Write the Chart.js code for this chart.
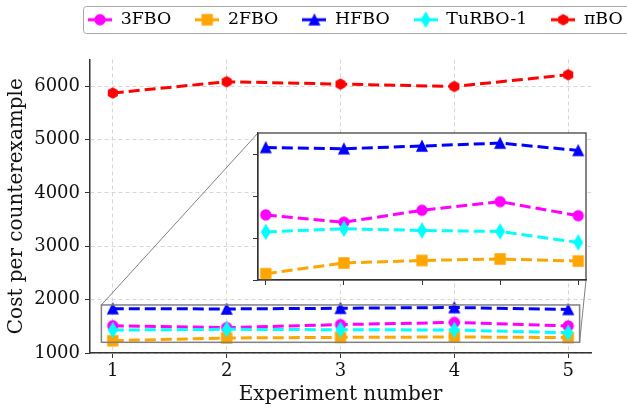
<!DOCTYPE html>
<html>
<head>
<meta charset="utf-8">
<script src="https://cdn.jsdelivr.net/npm/chart.js@4.4.1/dist/chart.umd.min.js"></script>
<style>
  html, body { margin: 0; padding: 0; background: #fff; }
  #wrap { position: relative; width: 627px; height: 407px; overflow: hidden; }
  #main { position: absolute; left: 0; top: 0; }
  #inset { position: absolute; left: 248px; top: 123px; }
</style>
</head>
<body>
<div id="wrap">
  <canvas id="main" width="627" height="407"></canvas>
  <canvas id="inset" width="348" height="167"></canvas>
</div>
<script>
// data
const experiments = [1, 2, 3, 4, 5];
const fbo3 = [1510, 1475, 1532, 1573, 1506];
const fbo2 = [1230, 1281, 1293, 1300, 1290];
const hfbo = [1831, 1825, 1838, 1852, 1817];
const turbo1 = [1429, 1444, 1436, 1431, 1379];
const pibo = [5870, 6082, 6037, 5993, 6213];

const xTicks = [1, 2, 3, 4, 5];
const yTicks = [1000, 2000, 3000, 4000, 5000, 6000];
const insetYTicks = [1200, 1400, 1600, 1800];

const xRange = [0.8, 5.2];
const yRange = [1000, 6500];
const insetXRange = [0.9, 5.1];
const insetYRange = [1200, 1900];

const FONT = "'DejaVu Serif', 'Liberation Serif', serif";
const MARKER = 10;

Chart.defaults.font.family = FONT;
Chart.defaults.color = "#111";

function markerPath(ctx, shape) {
  const r = MARKER / 2;
  ctx.beginPath();
  if (shape == "o") {
    ctx.arc(0, 0, r, 0, Math.PI * 2);
  } else if (shape == "s") {
    ctx.rect(-r, -r, 2 * r, 2 * r);
  } else if (shape == "^") {
    ctx.moveTo(0, -r); ctx.lineTo(r, r); ctx.lineTo(-r, r); ctx.closePath();
  } else if (shape == "d") {
    const h = r * Math.SQRT2, w = h * 0.6;
    ctx.moveTo(0, -h); ctx.lineTo(w, 0); ctx.lineTo(0, h); ctx.lineTo(-w, 0); ctx.closePath();
  } else if (shape == "h") {
    for (let k = 0; k < 6; k++) {
      const a = -Math.PI / 2 + k * Math.PI / 3;
      if (k == 0) ctx.moveTo(r * Math.cos(a), r * Math.sin(a));
      else ctx.lineTo(r * Math.cos(a), r * Math.sin(a));
    }
    ctx.closePath();
  }
}

function makeMarker(shape, color) {
  const c = document.createElement("canvas");
  c.width = 18; c.height = 18;
  const ctx = c.getContext("2d");
  ctx.translate(9, 9);
  markerPath(ctx, shape);
  ctx.fillStyle = color;
  ctx.strokeStyle = color;
  ctx.lineWidth = 1.3;
  ctx.fill();
  ctx.stroke();
  return c;
}

// legend handle: short line with the marker in the middle
function makeHandle(marker, color) {
  const c = document.createElement("canvas");
  c.width = 24; c.height = 18;
  const ctx = c.getContext("2d");
  ctx.strokeStyle = color;
  ctx.lineWidth = 3;
  ctx.beginPath(); ctx.moveTo(0, 9); ctx.lineTo(24, 9); ctx.stroke();
  ctx.drawImage(marker, 3, 0);
  return c;
}

const series = [
  { label: "3FBO", values: fbo3, color: "#ff00ff", shape: "o" },
  { label: "2FBO", values: fbo2, color: "#ffa500", shape: "s" },
  { label: "HFBO", values: hfbo, color: "#0000ff", shape: "^" },
  { label: "TuRBO-1", values: turbo1, color: "#00ffff", shape: "d" },
  { label: "πBO", values: pibo, color: "#ff0000", shape: "h" },
];
series.forEach((s) => {
  s.marker = makeMarker(s.shape, s.color);
  s.handle = makeHandle(s.marker, s.color);
});

function toDataset(s, i) {
  return {
    label: s.label,
    data: experiments.map((x, j) => ({ x: x, y: s.values[j] })),
    borderColor: s.color,
    backgroundColor: s.color,
    borderWidth: 3,
    borderDash: [11, 5],
    tension: 0,
    fill: false,
    pointStyle: s.marker,
    pointRadius: 6,
    order: series.length - i, // later series on top, like matplotlib
  };
}

const gridStyle = { color: "#d6d6d6", lineWidth: 1, tickColor: "#333", tickLength: 5, tickWidth: 1 };
const borderStyle = { display: true, color: "#333", width: 1.5, dash: [4, 3] };

// where the inset sits on the page (chart area of the inset canvas)
const insetBox = { left: 258, top: 133, right: 586, bottom: 280 };

const zoomMark = {
  id: "zoomMark",
  afterDatasetsDraw(chart) {
    const { ctx, scales: { x, y } } = chart;
    const x0 = x.getPixelForValue(insetXRange[0]);
    const x1 = x.getPixelForValue(insetXRange[1]);
    const y0 = y.getPixelForValue(insetYRange[1]);
    const y1 = y.getPixelForValue(insetYRange[0]);
    ctx.save();
    ctx.strokeStyle = "#808080";
    ctx.lineWidth = 1.5;
    ctx.strokeRect(x0, y0, x1 - x0, y1 - y0);
    ctx.lineWidth = 1;
    ctx.beginPath();
    ctx.moveTo(x0, y0); ctx.lineTo(insetBox.left, insetBox.top);
    ctx.moveTo(x1, y1); ctx.lineTo(insetBox.right, insetBox.bottom);
    ctx.stroke();
    ctx.restore();
  },
};

const legendFrame = {
  id: "legendFrame",
  afterLayout(chart) {
    const lg = chart.legend;
    const pad = chart.options.plugins.legend.labels.padding;
    lg.left = 88 - pad;
    lg.right = 720;
    lg.top = 20 - pad - 9;
    lg.bottom = lg.top + 60;
  },
  beforeDraw(chart) {
    const ctx = chart.ctx;
    ctx.save();
    ctx.strokeStyle = "#a8a8a8";
    ctx.lineWidth = 1;
    ctx.beginPath();
    ctx.roundRect(83.5, 6.5, 560, 27, 3);
    ctx.stroke();
    ctx.restore();
  },
};

new Chart(document.getElementById("main"), {
  type: "line",
  data: { datasets: series.map(toDataset) },
  options: {
    responsive: false,
    animation: false,
    devicePixelRatio: 1,
    layout: { padding: { top: 8, right: 36, left: 0, bottom: 0 }, autoPadding: false },
    plugins: {
      tooltip: { enabled: false },
      legend: {
        position: "top",
        align: "start",
        maxHeight: 52,
        labels: {
          usePointStyle: true,
          pointStyleWidth: 24,
          padding: 24,
          color: "#111",
          font: { size: 17.4 },
          generateLabels: () => series.map((s, i) => ({
            text: s.label, pointStyle: s.handle, datasetIndex: i, lineWidth: 0, hidden: false,
          })),
        },
      },
    },
    scales: {
      x: {
        type: "linear",
        min: xRange[0],
        max: xRange[1],
        afterBuildTicks: (s) => { s.ticks = xTicks.map((v) => ({ value: v })); },
        afterFit: (s) => { s.height = 54; },
        ticks: { font: { size: 18 }, padding: 3, color: "#111", maxRotation: 0, callback: (v) => String(v) },
        grid: gridStyle,
        border: borderStyle,
        title: { display: true, text: "Experiment number", font: { size: 20 }, color: "#111", padding: { top: 0, bottom: 0 } },
      },
      y: {
        min: yRange[0],
        max: yRange[1],
        afterBuildTicks: (s) => { s.ticks = yTicks.map((v) => ({ value: v })); },
        afterFit: (s) => { s.width = 90; },
        ticks: { font: { size: 18 }, padding: 5, color: "#111", callback: (v) => String(v) },
        grid: gridStyle,
        border: borderStyle,
        title: { display: true, text: "Cost per counterexample", font: { size: 20 }, color: "#111", padding: { top: 5, bottom: 0 } },
      },
    },
  },
  plugins: [zoomMark, legendFrame],
});

const insetFrame = {
  id: "insetFrame",
  beforeDraw(chart) {
    const { ctx, chartArea: a } = chart;
    ctx.save();
    ctx.fillStyle = "#fff";
    ctx.fillRect(a.left, a.top, a.right - a.left, a.bottom - a.top);
    ctx.restore();
  },
  afterDraw(chart) {
    const { ctx, chartArea: a } = chart;
    ctx.save();
    ctx.strokeStyle = "#333";
    ctx.lineWidth = 1.2;
    ctx.strokeRect(a.left, a.top, a.right - a.left, a.bottom - a.top);
    ctx.restore();
  },
};

const insetTicks = { display: false };
const insetGrid = { drawOnChartArea: false, tickColor: "#333", tickLength: 5, tickWidth: 1 };

new Chart(document.getElementById("inset"), {
  type: "line",
  data: { datasets: series.slice(0, 4).map(toDataset) },
  options: {
    responsive: false,
    animation: false,
    devicePixelRatio: 1,
    layout: { padding: { top: 10, right: 10, left: 0, bottom: 0 }, autoPadding: false },
    plugins: { legend: { display: false }, tooltip: { enabled: false } },
    scales: {
      x: {
        type: "linear",
        min: insetXRange[0],
        max: insetXRange[1],
        afterBuildTicks: (s) => { s.ticks = xTicks.map((v) => ({ value: v })); },
        afterFit: (s) => { s.height = 10; },
        ticks: insetTicks,
        grid: insetGrid,
        border: { display: true, color: "#333", width: 1.2 },
      },
      y: {
        min: insetYRange[0],
        max: insetYRange[1],
        afterBuildTicks: (s) => { s.ticks = insetYTicks.map((v) => ({ value: v })); },
        afterFit: (s) => { s.width = 10; },
        ticks: insetTicks,
        grid: insetGrid,
        border: { display: true, color: "#333", width: 1.2 },
      },
    },
  },
  plugins: [insetFrame],
});
</script>
</body>
</html>
